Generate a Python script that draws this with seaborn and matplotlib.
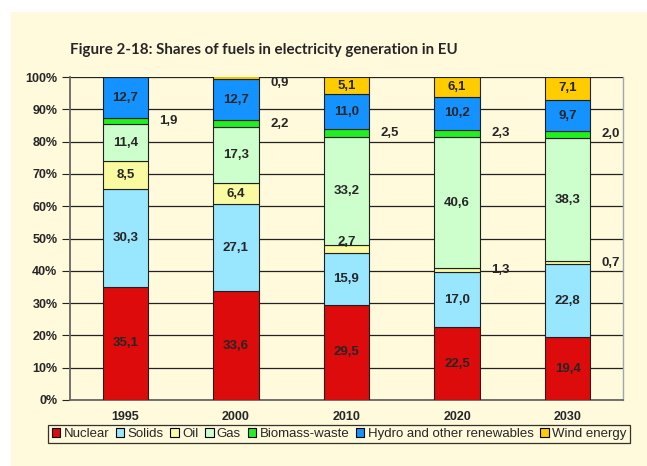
import numpy as np
import pandas as pd
import seaborn as sns
import matplotlib.pyplot as plt
from matplotlib.patches import Patch, Rectangle

years = ["1995", "2000", "2010", "2020", "2030"]
fuels = ["Nuclear", "Solids", "Oil", "Gas", "Biomass-waste",
         "Hydro and other renewables", "Wind energy"]
nuclear = [35.1, 33.6, 29.5, 22.5, 19.4]
solids = [30.3, 27.1, 15.9, 17.0, 22.8]
oil = [8.5, 6.4, 2.7, 1.3, 0.7]
gas = [11.4, 17.3, 33.2, 40.6, 38.3]
biomass = [1.9, 2.2, 2.5, 2.3, 2.0]
hydro = [12.7, 12.7, 11.0, 10.2, 9.7]
wind = [0.0, 0.9, 5.1, 6.1, 7.1]

colors = ["#DD0B0B", "#99E6FF", "#FAFAA0", "#CCFFCC", "#22EE22", "#1492FF", "#FFCC00"]
bg = "#FFFADC"

shares = pd.DataFrame(dict(zip(fuels, [nuclear, solids, oil, gas, biomass, hydro, wind])),
                      index=years)

sns.set_theme(style="white")
plt.rcParams["font.family"] = ["Liberation Sans", "DejaVu Sans"]

fig = plt.figure(figsize=(6.47, 4.66), dpi=100)
fig.patch.set_facecolor("white")
fig.patches.append(Rectangle((11 / 647, 0), 1, (466 - 12) / 466, transform=fig.transFigure,
                             facecolor=bg, edgecolor="none", zorder=-10))
ax = fig.add_axes([70 / 647, (466 - 400) / 466, 553 / 647, 323 / 466])
ax.set_facecolor(bg)

lab_size = 9.5
bottom = np.zeros(len(years))
for fuel, col in zip(fuels, colors):
    vals = shares[fuel].values
    df = pd.DataFrame({"year": years, "share": vals})
    sns.barplot(data=df, x="year", y="share", color=col, bottom=bottom, width=0.41,
                edgecolor="#202020", linewidth=0.8, saturation=1, ax=ax, zorder=3)
    for i, v in enumerate(vals):
        if v <= 0:
            continue
        mid = bottom[i] + v / 2
        txt = f"{v:.1f}".replace(".", ",")
        if fuel == "Oil" and years[i] == "2010":
            ax.text(i, bottom[i] + v + 0.8, txt, ha="center", va="center",
                    fontsize=lab_size, fontweight="bold", zorder=5)
        elif v < 3:
            ax.text(i + 0.31, min(mid, 98.2), txt, ha="left", va="center",
                    fontsize=lab_size, fontweight="bold", zorder=5)
        else:
            ax.text(i, mid, txt, ha="center", va="center",
                    fontsize=lab_size, fontweight="bold", zorder=5)
    bottom = bottom + vals

ax.set_ylim(0, 100)
ax.set_xlim(-0.5, 4.5)
ax.set_yticks(np.arange(0, 101, 10))
ax.set_yticklabels([f"{t}%" for t in range(0, 101, 10)], fontsize=9, fontweight="bold")
ax.set_xticks(range(5))
ax.set_xticklabels(years, fontsize=9, fontweight="bold")
ax.set_xticks(np.arange(-0.5, 5, 1), minor=True)
ax.tick_params(axis="x", which="major", length=0, pad=8)
ax.tick_params(axis="x", which="minor", length=4, width=0.8, color="#555555", direction="out")
ax.tick_params(axis="y", length=6, width=0.8, color="#222222", direction="out", left=True, pad=3)
ax.set_xlabel("")
ax.set_ylabel("")
ax.yaxis.grid(True, color="#222222", linewidth=0.9, zorder=0)
ax.set_axisbelow(True)
for side in ["left", "bottom"]:
    ax.spines[side].set_color("#666666")
    ax.spines[side].set_linewidth(1.3)
ax.spines["top"].set_visible(False)
ax.spines["right"].set_color("#9aa8b0")
ax.spines["right"].set_linewidth(1.0)

fig.text(70 / 647, (466 - 50) / 466, "Figure 2-18: Shares of fuels in electricity generation in EU",
         fontsize=10.9, fontweight="bold", family=["Lato", "DejaVu Sans"], ha="left", va="center")

handles = [Patch(facecolor=c, edgecolor="black", linewidth=0.8) for c in colors]
leg = fig.legend(handles, fuels, loc="center", bbox_to_anchor=(339 / 647, (466 - 434) / 466),
                 ncol=7, fontsize=9.5, frameon=True, fancybox=False, edgecolor="black",
                 handlelength=0.65, handleheight=0.65, handletextpad=0.25, columnspacing=0.5,
                 borderpad=0.25, borderaxespad=0)
leg.get_frame().set_facecolor(bg)
leg.get_frame().set_linewidth(0.9)

fig.savefig("out.png", dpi=100, facecolor=fig.get_facecolor())
